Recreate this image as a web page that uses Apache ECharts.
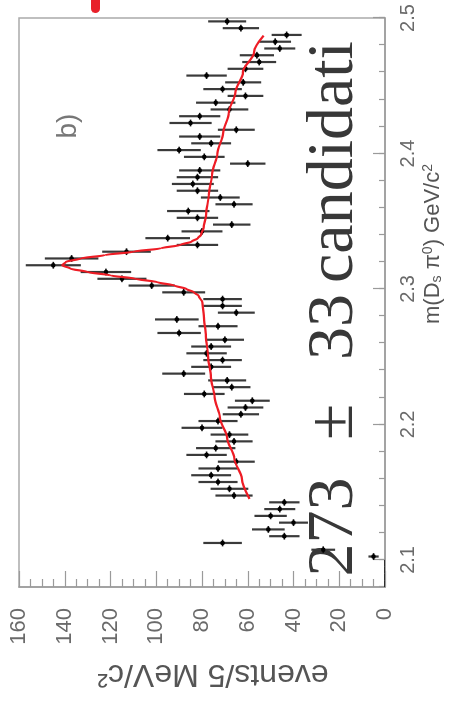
<!DOCTYPE html>
<html>
<head>
<meta charset="utf-8">
<script src="https://cdn.jsdelivr.net/npm/echarts@6/dist/echarts.min.js"></script>
<style>
  html, body { margin: 0; padding: 0; background: #fff; width: 450px; height: 702px; overflow: hidden; }
  /* the plot is laid out landscape and turned a quarter turn counter-clockwise */
  #chart { position: absolute; left: 0; top: 0; width: 702px; height: 450px;
           transform-origin: 0 0; transform: translateY(702px) rotate(-90deg); }
</style>
</head>
<body>
<div id="chart"></div>
<script>
// Histogram of m(Ds pi0): 5 MeV bins starting at 2.080 GeV/c^2
const binLow = 2.08;
const binWidth = 0.005;
const counts = [
  0, 0, 0, 0,
  5, 27, 71, 44, 51, 40, 50, 46, 44, 66,
  68, 73, 76, 73, 65, 78, 74, 66, 68, 80,
  73, 63, 61, 58, 79, 67, 69, 88, 76, 71,
  78, 76, 70, 90, 73, 91, 65, 71, 71, 88,
  102, 115, 122, 145, 137, 113, 82, 95, 80, 67,
  82, 86, 66, 72, 82, 84, 82, 81, 60, 79,
  90, 76, 81, 65, 85, 81, 68, 74, 61, 71,
  62, 78, 61, 55, 56, 46, 48, 43, 63, 69
];

// Fitted curve (signal peak on smooth background)
const fitMass = [
  2.145, 2.160, 2.175, 2.190, 2.205, 2.220, 2.235, 2.250, 2.265, 2.280,
  2.290, 2.295, 2.2975, 2.300, 2.3025, 2.305, 2.3075, 2.310, 2.3125, 2.315,
  2.3175, 2.320, 2.3225, 2.325, 2.3275, 2.330, 2.3325, 2.335, 2.3375, 2.340,
  2.345, 2.355, 2.370, 2.385, 2.400, 2.415, 2.430, 2.445, 2.460, 2.475, 2.487
];
const fitEvents = [
  59.2, 62.6, 65.9, 69.0, 72.2, 74.5, 76.1, 77.3, 78.3, 79.2,
  79.8, 81.5, 83.5, 86.8, 92.0, 99.5, 109.0, 120.0, 130.0, 137.5,
  141.0, 139.5, 133.0, 122.5, 110.0, 98.0, 89.5, 84.5, 81.8, 80.4,
  79.3, 78.2, 77.0, 75.6, 73.3, 70.8, 68.3, 65.4, 62.1, 57.2, 53.1
];

const massTicks = [2.1, 2.2, 2.3, 2.4, 2.5];

// signal yield caption, word by word
const yieldWords = ['273', '±', '33', 'candidati'];

// [bin centre, count, Poisson error]
const points = counts.map((n, i) => [binLow + binWidth * (i + 0.5), n, Math.sqrt(n)]);
const fitLine = fitMass.map((m, i) => [m, fitEvents[i]]);

const chart = echarts.init(document.getElementById('chart'), null, { renderer: 'canvas' });

const axisGrey = '#9a9a9a';
const labelGrey = '#6a6a6a';
const yieldPos = [175, 280, 375, 540];

chart.setOption({
  animation: false,
  backgroundColor: '#fff',
  grid: { left: 115, right: 18, top: 19, bottom: 65, show: true, borderColor: '#aaa', borderWidth: 1.5 },
  xAxis: [
    {
      type: 'value', min: 2.08, max: 2.5, interval: 0.02,
      axisLine: { show: true, onZero: false, lineStyle: { color: axisGrey, width: 1.5 } },
      axisTick: { show: true, inside: true, length: 6, lineStyle: { color: axisGrey, width: 1.2 } },
      axisLabel: { show: false },
      splitLine: { show: false }
    },
    {
      type: 'value', min: 2.08, max: 2.5, position: 'bottom',
      axisLine: { show: false },
      axisTick: { show: true, inside: true, length: 12, customValues: massTicks, lineStyle: { color: axisGrey, width: 1.2 } },
      axisLabel: { show: true, customValues: massTicks, margin: 13, color: labelGrey,
                   fontFamily: 'Liberation Sans', fontSize: 20, formatter: v => v.toFixed(1) },
      splitLine: { show: false }
    }
  ],
  yAxis: {
    type: 'value', min: 0, max: 160, interval: 20,
    axisLine: { show: true, onZero: false, lineStyle: { color: axisGrey, width: 1.5 } },
    axisTick: { show: true, inside: true, length: 16, lineStyle: { color: axisGrey, width: 1.2 } },
    minorTick: { show: true, splitNumber: 4, length: 8, lineStyle: { color: axisGrey, width: 1.2 } },
    axisLabel: { margin: 21, color: labelGrey, fontFamily: 'Liberation Sans', fontSize: 22 },
    splitLine: { show: false }
  },
  series: [
    {
      type: 'custom',
      xAxisIndex: 0,
      clip: true,
      data: points,
      renderItem: function (params, api) {
        const m = api.value(0), n = api.value(1), e = api.value(2);
        const c = api.coord([m, n]);
        const l = api.coord([m - binWidth / 2, n]);
        const r = api.coord([m + binWidth / 2, n]);
        const lo = api.coord([m, n - e]);
        const hi = api.coord([m, n + e]);
        return {
          type: 'group',
          children: [
            { type: 'line', shape: { x1: l[0], y1: l[1], x2: r[0], y2: r[1] },
              style: { stroke: '#111', lineWidth: 1.6 } },
            { type: 'line', shape: { x1: lo[0], y1: lo[1], x2: hi[0], y2: hi[1] },
              style: { stroke: '#3a3a3a', lineWidth: 2.2 } },
            { type: 'circle', shape: { cx: c[0], cy: c[1], r: n > 0 ? 2.3 : 0 },
              style: { fill: '#000' } }
          ]
        };
      },
      z: 3
    },
    {
      type: 'line',
      xAxisIndex: 0,
      data: fitLine,
      showSymbol: false,
      smooth: 0.3,
      smoothMonotone: 'x',
      lineStyle: { color: '#ee1c25', width: 2.2 },
      z: 4
    }
  ],
  graphic: [
    // axis titles
    {
      type: 'text', x: 28, y: 213, rotation: Math.PI / 2,
      style: { text: 'events/5 MeV/c²', font: '32px "Liberation Sans"', fill: '#555',
               align: 'center', verticalAlign: 'middle' }
    },
    {
      type: 'text', x: 458, y: 421,
      style: {
        text: 'm(D{sub|s} π{sup|0}) GeV/c{sup|2}',
        font: '22px "Liberation Sans"', fill: '#555', align: 'center', verticalAlign: 'top',
        rich: {
          sub: { fontSize: 14, fill: '#555', verticalAlign: 'bottom', padding: [9, 0, 0, 0] },
          sup: { fontSize: 14, fill: '#555', verticalAlign: 'top', padding: [0, 0, 9, 0] }
        }
      }
    },
    // panel tag
    {
      type: 'text', x: 576, y: 68,
      style: { text: 'b)', font: '28px "Liberation Sans"', fill: '#777', align: 'center', verticalAlign: 'middle' }
    },
    // signal yield
    ...yieldWords.map((w, i) => ({
      type: 'text', x: yieldPos[i], y: 335,
      style: { text: w, font: '66px "Liberation Serif"', fill: '#383838',
               align: 'center', verticalAlign: 'middle' }
    })),
    // arrow tip entering from the page edge
    {
      type: 'rect', shape: { x: 689, y: 91, width: 24, height: 9, r: 4.5 },
      style: { fill: '#e8202a' }
    }
  ]
});
</script>
</body>
</html>
